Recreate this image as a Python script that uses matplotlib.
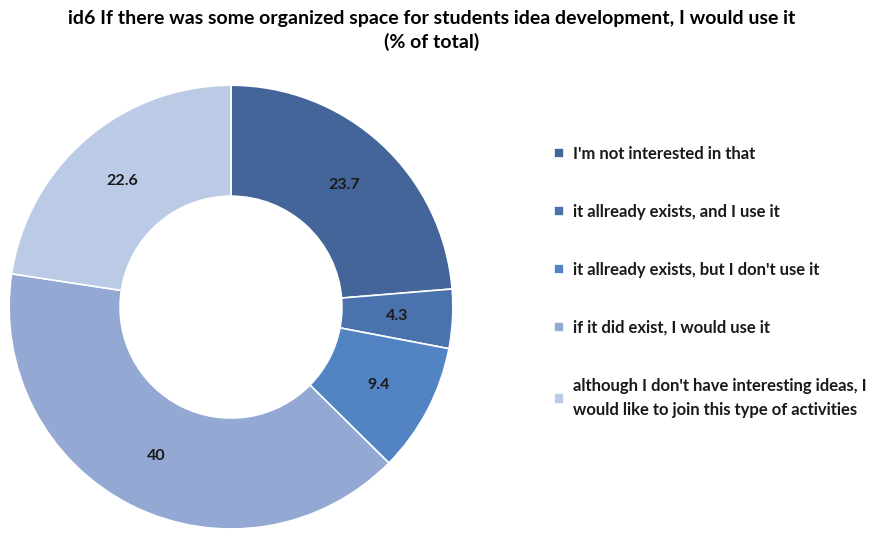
import matplotlib.pyplot as plt

labels = [
    "I'm not interested in that",
    "it allready exists, and I use it",
    "it allready exists, but I don't use it",
    "if it did exist, I would use it",
    "although I don't have interesting ideas, I\nwould like to join this type of activities",
]
values = [23.7, 4.3, 9.4, 40, 22.6]
colors = ["#44659a", "#4a72ad", "#5284c3", "#93a9d3", "#bccbe5"]

plt.rcParams['font.family'] = ['Lato', 'DejaVu Sans']
plt.rcParams['font.weight'] = 'bold'

fig = plt.figure(figsize=(8.81, 5.34), dpi=100)
ax = fig.add_axes([0.0102, 0.0094, 0.504, 0.831])

wedges, texts = ax.pie(values, colors=colors, startangle=90, counterclock=False,
                       labels=[f"{v:g}" for v in values], labeldistance=0.75,
                       wedgeprops=dict(width=0.5, edgecolor='white', linewidth=1.2),
                       textprops=dict(fontsize=11.5, fontweight='bold', color='#1a1a1a',
                                      ha='center', va='center'))
ax.set_xlim(-1, 1)
ax.set_ylim(-1, 1)
ax.set_aspect('equal')

fig.suptitle("id6 If there was some organized space for students idea development, I would use it\n(% of total)",
             x=0.49, y=0.982, fontsize=14, fontweight='bold', linespacing=1.4)

leg = fig.legend(wedges, labels, loc='upper left', bbox_to_anchor=(0.612, 0.755),
                 frameon=False, fontsize=12, handlelength=0.6, handleheight=0.6,
                 handletextpad=0.55, labelspacing=2.52)
for t in leg.get_texts():
    t.set_fontweight('bold')
    t.set_color('#1a1a1a')
leg.get_texts()[-1].set_linespacing(1.6)

fig.savefig("out.png", dpi=100)
